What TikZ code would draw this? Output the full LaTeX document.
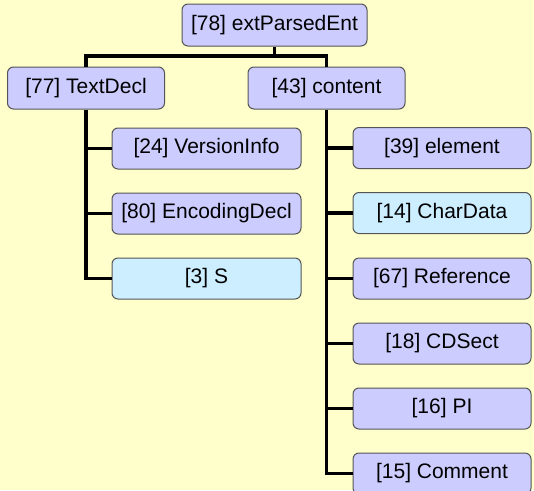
\documentclass[tikz,border=0pt]{standalone}
\usepackage{fontspec}
\setmainfont{Liberation Sans}
\definecolor{bgc}{HTML}{FFFFCC}
\definecolor{boxc}{HTML}{CCCCFF}
\definecolor{lightc}{HTML}{CCEEFF}
\definecolor{edgec}{HTML}{555555}
\begin{document}
\begin{tikzpicture}[x=1pt,y=-1pt,
  box/.style={draw=edgec, line width=1pt, fill=boxc, rounded corners=6pt,
    inner sep=0pt, minimum height=41pt, font=\fontsize{21}{24}\selectfont},
  lbox/.style={box, fill=lightc},
  conn/.style={line width=3.3pt, black}]
\path[use as bounding box, fill=bgc] (0,0) rectangle (534,490);
\begin{scope}
\clip (0,0) rectangle (534,490);
\node[box, minimum width=185pt, minimum height=42pt] (root) at (274.5,25) {[78] extParsedEnt};
\node[box, minimum width=157pt, minimum height=42pt] (tdecl) at (86,88) {[77] TextDecl};
\node[box, minimum width=157pt, minimum height=42pt] (content) at (326.5,88) {[43] content};
\node[box, minimum width=189pt] (vinfo) at (206.5,148.5) {[24] VersionInfo};
\node[box, minimum width=189pt] (encd) at (206.5,213.5) {[80] EncodingDecl};
\node[lbox, minimum width=189pt] (s) at (206.5,278.5) {[3] S};
\node[box, minimum width=178pt] (elem) at (442,148) {[39] element};
\node[lbox, minimum width=178pt] (chard) at (442,213) {[14] CharData};
\node[box, minimum width=178pt] (ref) at (442,278.5) {[67] Reference};
\node[box, minimum width=178pt] (cds) at (442,343.5) {[18] CDSect};
\node[box, minimum width=178pt] (pi) at (442,408.5) {[16] PI};
\node[box, minimum width=178pt] (comm) at (442,473.5) {[15] Comment};
\coordinate (bar) at (0,56);
\draw[conn] (root.south) -- (root.south |- bar) -| (tdecl.north);
\draw[conn] (root.south |- bar) -| (content.north);
\draw[conn] (tdecl.south) |- (s.west);
\draw[conn] (tdecl.south |- vinfo.west) -- (vinfo.west);
\draw[conn] (tdecl.south |- encd.west) -- (encd.west);
\draw[conn] (content.south) |- (comm.west);
\foreach \n in {elem,chard,ref,cds,pi}
  \draw[conn] (content.south |- \n.west) -- (\n.west);
\end{scope}
\end{tikzpicture}
\end{document}
